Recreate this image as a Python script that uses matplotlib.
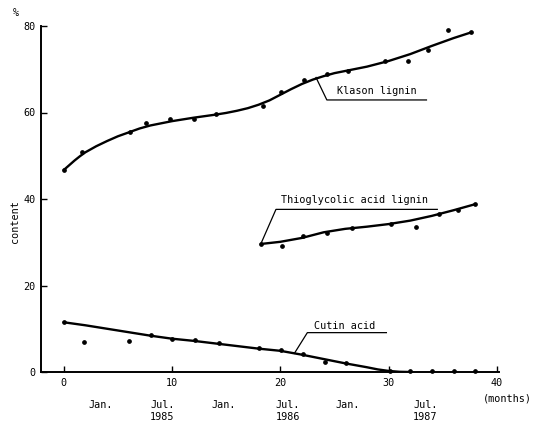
import matplotlib
matplotlib.use("Agg")
import matplotlib.pyplot as plt

# --- data ---
klason_x = [0, 1.7, 6.1, 7.6, 9.8, 12.0, 14.1, 18.4, 20.1, 22.2, 24.3, 26.3, 29.7, 31.8, 33.6, 35.5, 37.6]
klason_y = [46.7, 50.8, 55.4, 57.6, 58.5, 58.6, 59.7, 61.5, 64.7, 67.6, 68.8, 69.6, 71.8, 71.8, 74.5, 79.1, 78.5]
klason_curve_x = [0, 0.5, 1, 1.5, 2, 3, 4, 5, 6, 7, 8, 10, 12, 14, 15, 16, 17, 18, 19, 20, 21, 22, 23, 24, 25, 26, 28, 30, 32, 34, 36, 37.6]
klason_curve_y = [46.7, 47.8, 48.9, 49.9, 50.8, 52.2, 53.4, 54.5, 55.4, 56.3, 57.0, 58.0, 58.8, 59.5, 59.9, 60.4, 61.0, 61.8, 62.8, 64.1, 65.4, 66.6, 67.6, 68.4, 69.1, 69.6, 70.6, 71.9, 73.5, 75.4, 77.2, 78.5]

thio_x = [18.2, 20.2, 22.1, 24.3, 26.6, 30.2, 32.5, 34.7, 36.4, 38.0]
thio_y = [29.6, 29.2, 31.5, 32.1, 33.4, 34.2, 33.6, 36.5, 37.5, 38.8]
thio_curve_x = [18.2, 20, 22, 24, 26, 28, 30, 32, 34, 36, 38]
thio_curve_y = [29.6, 30.1, 31.0, 32.3, 33.1, 33.6, 34.2, 35.0, 36.1, 37.4, 38.8]

cutin_x = [0, 1.9, 6.0, 8.1, 10.0, 12.1, 14.3, 18.0, 20.1, 22.1, 24.1, 26.1, 30.1, 32.0, 34.0, 36.0, 38.0]
cutin_y = [11.5, 7.0, 7.1, 8.6, 7.7, 7.3, 6.6, 5.5, 5.0, 4.1, 2.3, 2.0, 0.2, 0.2, 0.2, 0.2, 0.2]
cutin_curve_x = [0, 2, 4, 6, 8, 10, 12, 14, 16, 18, 20, 22, 24, 26, 28, 29, 30, 31, 32]
cutin_curve_y = [11.5, 10.8, 10.0, 9.2, 8.4, 7.7, 7.2, 6.6, 6.0, 5.4, 4.9, 4.0, 3.0, 2.0, 1.1, 0.6, 0.25, 0.05, 0.0]

xticks = [0, 10, 20, 30, 40]
yticks = [0, 20, 40, 60, 80]
date_pos = [3.4, 9.1, 14.8, 20.7, 26.2, 33.4]
date_labels = ["Jan.", "Jul.\n1985", "Jan.", "Jul.\n1986", "Jan.", "Jul.\n1987"]

mono = "DejaVu Sans Mono"
fs = 7.3

fig = plt.figure(figsize=(5.34, 4.21), dpi=100)
ax = fig.add_axes([41/534, 1-372/421, (499-41)/534, (372-26)/421])
ax.set_xlim(-2.1, 40.2)
ax.set_ylim(0, 80)

lw = 1.7
ax.plot(klason_curve_x, klason_curve_y, color="black", lw=lw, solid_capstyle="round", solid_joinstyle="round")
ax.plot(thio_curve_x, thio_curve_y, color="black", lw=lw, solid_capstyle="round", solid_joinstyle="round")
ax.plot(cutin_curve_x, cutin_curve_y, color="black", lw=lw, solid_capstyle="round", solid_joinstyle="round")
for xs, ys in [(klason_x, klason_y), (thio_x, thio_y), (cutin_x, cutin_y)]:
    ax.plot(xs, ys, "o", color="black", ms=2.4, clip_on=False)

# annotations
lc = dict(color="black", lw=0.9)
ax.plot([23.3, 24.3, 33.5], [68.1, 62.9, 62.9], **lc)
ax.text(25.2, 64.9, "Klason lignin", family=mono, fontsize=fs, va="center", ha="left")
ax.plot([18.2, 19.6, 34.5], [29.6, 37.6, 37.6], **lc)
ax.text(20.1, 39.7, "Thioglycolic acid lignin", family=mono, fontsize=fs, va="center", ha="left")
ax.plot([21.3, 22.5, 29.8], [4.3, 9.1, 9.1], **lc)
ax.text(23.1, 10.6, "Cutin acid", family=mono, fontsize=fs, va="center", ha="left")

for s in ["top", "right"]:
    ax.spines[s].set_visible(False)
for s in ["left", "bottom"]:
    ax.spines[s].set_linewidth(1.4)

ax.set_xticks(xticks)
ax.set_yticks(yticks)
ax.set_xticklabels([str(t) for t in xticks], family=mono, fontsize=fs)
ax.set_yticklabels([str(t) for t in yticks], family=mono, fontsize=fs)
ax.tick_params(direction="in", length=4, width=1.0, pad=4)

for p, l in zip(date_pos, date_labels):
    ax.text(p, -6.5, l, family=mono, fontsize=fs, ha="center", va="top", linespacing=1.2)
ax.text(41.0, -5.0, "(months)", family=mono, fontsize=fs, ha="center", va="top")

fig.text(15/534, 1-222/421, "content", family=mono, fontsize=fs, rotation=90, ha="center", va="center")
fig.text(16/534, 1-13/421, "%", family=mono, fontsize=fs, ha="center", va="center")

fig.savefig("out.png", dpi=100)
